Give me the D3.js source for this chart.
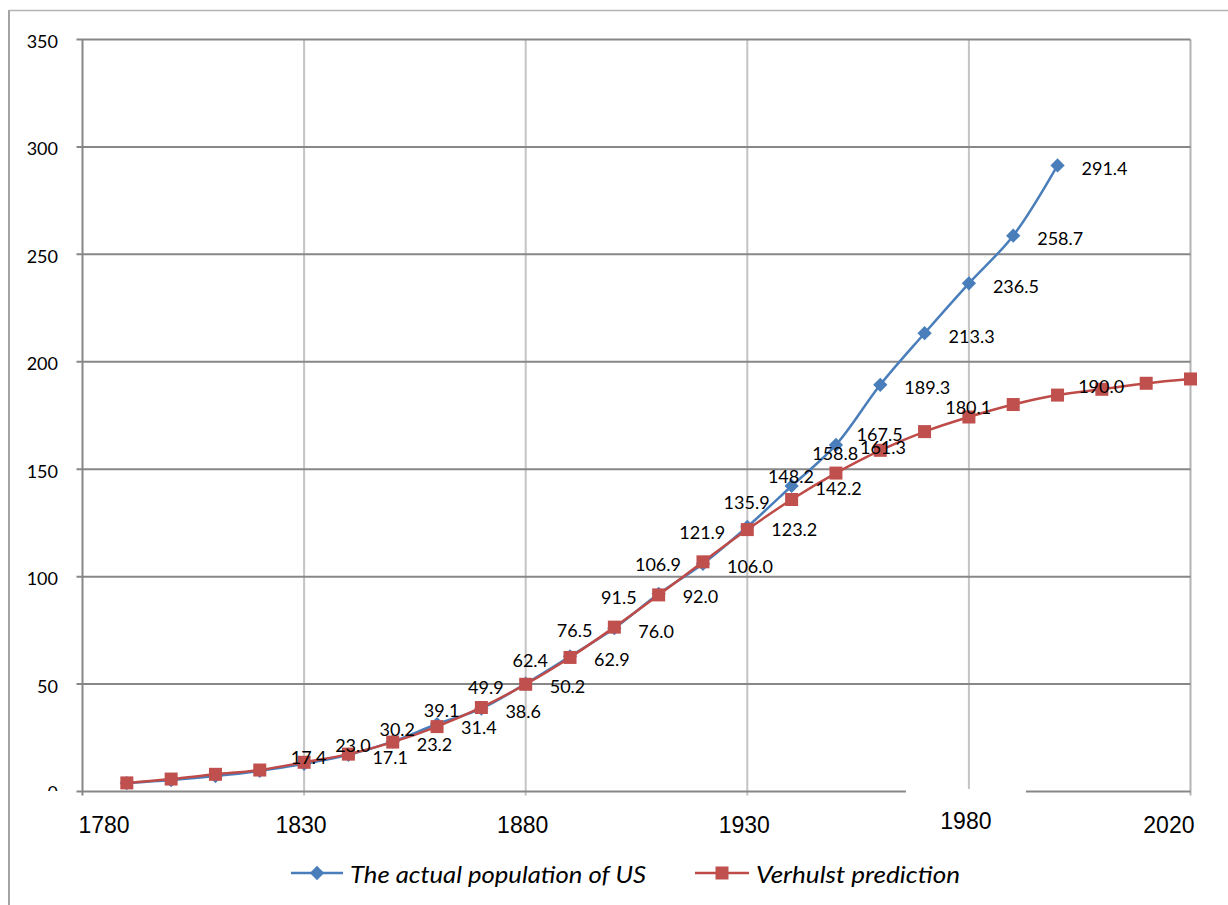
<!DOCTYPE html>
<html>
<head>
<meta charset="utf-8">
<script src="https://cdn.jsdelivr.net/npm/d3@7"></script>
<style>
  html, body { margin: 0; padding: 0; background: #ffffff; }
  svg { display: block; }
</style>
</head>
<body>
<svg id="chart" width="1228" height="905"></svg>
<script>
// Census decades (x values)
const years = [1790, 1800, 1810, 1820, 1830, 1840, 1850, 1860, 1870, 1880,
               1890, 1900, 1910, 1920, 1930, 1940, 1950, 1960, 1970, 1980,
               1990, 2000, 2010, 2020, 2030];

// US population, millions
const actualPopulation = [3.9, 5.3, 7.2, 9.6, 12.9, 17.1, 23.2, 31.4, 38.6, 50.2,
                          62.9, 76.0, 92.0, 106.0, 123.2, 142.2, 161.3, 189.3, 213.3, 236.5,
                          258.7, 291.4];

// Logistic (Verhulst) model, millions
const verhulstPrediction = [4.0, 5.8, 8.0, 10.0, 13.6, 17.4, 23.0, 30.2, 39.1, 49.9,
                            62.4, 76.5, 91.5, 106.9, 121.9, 135.9, 148.2, 158.8, 167.5, 174.3,
                            180.1, 184.5, 187.2, 190.0, 192.0];

// Decades that carry a value label
const actualLabelYears = [1840, 1850, 1860, 1870, 1880, 1890, 1900, 1910, 1920, 1930,
                          1940, 1950, 1960, 1970, 1980, 1990, 2000];
const verhulstLabelYears = [1840, 1850, 1860, 1870, 1880, 1890, 1900, 1910, 1920, 1930,
                            1940, 1950, 1960, 1970, 1990, 2020];

// Axis ticks
const xTickValues = [1780, 1830, 1880, 1930, 1980, 2030];
const xTickLabels = ["1780", "1830", "1880", "1930", "1980", "2020"];
const yTickValues = [0, 50, 100, 150, 200, 250, 300, 350];

const seriesNames = ["The actual population of US", "Verhulst prediction"];

const BLUE = "#4A7EBB";
const RED = "#BE4B48";
const AXIS = "#878787";
const GRID_V = "#c4c4c4";

const svg = d3.select("#chart");

// outer chart frame
svg.append("line").attr("x1", 9).attr("x2", 9).attr("y1", 10).attr("y2", 905)
  .attr("stroke", "#a3a3a3").attr("stroke-width", 2);
svg.append("line").attr("x1", 9).attr("x2", 1228).attr("y1", 10.5).attr("y2", 10.5)
  .attr("stroke", "#b4b4b4").attr("stroke-width", 1.5);

const x = d3.scaleLinear().domain([1780, 2030]).range([82.5, 1190.5]);
const y = d3.scaleLinear().domain([0, 350]).range([791.5, 39.5]);

const fmt = d3.format(".1f");

// vertical gridlines
svg.append("g").selectAll("line")
  .data(xTickValues.slice(1))
  .join("line")
  .attr("x1", d => x(d)).attr("x2", d => x(d))
  .attr("y1", y(350)).attr("y2", y(0) + 4)
  .attr("stroke", d => d === 2030 ? "#b3b3b3" : GRID_V)
  .attr("stroke-width", 2);

// horizontal gridlines with left tick stubs
svg.append("g").selectAll("line")
  .data(yTickValues)
  .join("line")
  .attr("x1", x(1780) - 6).attr("x2", x(2030))
  .attr("y1", d => y(d)).attr("y2", d => y(d))
  .attr("stroke", AXIS)
  .attr("stroke-width", 2);

// value axis line
svg.append("line")
  .attr("x1", x(1780)).attr("x2", x(1780))
  .attr("y1", y(350)).attr("y2", y(0) + 4)
  .attr("stroke", AXIS).attr("stroke-width", 2);

// y tick labels; the lowest one is cut at the axis line
svg.append("clipPath").attr("id", "yclip")
  .append("rect").attr("x", 0).attr("y", 0).attr("width", 80).attr("height", y(0) - 0.5);
svg.append("g").attr("clip-path", "url(#yclip)")
  .selectAll("text")
  .data(yTickValues)
  .join("text")
  .attr("x", 58)
  .attr("y", d => y(d) + (d === 0 ? 7 : 8.5))
  .attr("text-anchor", "end")
  .attr("font-family", "Lato, 'Open Sans', sans-serif")
  .attr("font-size", 18)
  .attr("fill", "#000")
  .text(d => d);

// x tick labels
const xl = svg.append("g");
xTickValues.forEach((v, i) => {
  const last = i === xTickValues.length - 1;
  const first = i === 0;
  if (v === 1980) {
    // this label sits on an opaque box that hides part of the axis line
    xl.append("rect").attr("x", x(v) - 63).attr("y", y(0) - 2.5)
      .attr("width", 120).attr("height", 48).attr("fill", "#fff");
  }
  xl.append("text")
    .attr("x", first ? x(v) - 4 : last ? x(v) + 4 : x(v) - 3)
    .attr("y", v === 1980 ? 829 : 833)
    .attr("text-anchor", first ? "start" : last ? "end" : "middle")
    .attr("font-family", "'Liberation Sans', Arial, sans-serif")
    .attr("font-size", 23)
    .attr("fill", "#000")
    .text(xTickLabels[i]);
});

// series data
const actual = actualPopulation.map((v, i) => ({ year: years[i], value: v }));
const verhulst = verhulstPrediction.map((v, i) => ({ year: years[i], value: v }));

const line = d3.line()
  .x(d => x(d.year))
  .y(d => y(d.value))
  .curve(d3.curveCatmullRom.alpha(0.5));

const diamond = d3.symbol().type(d3.symbolDiamond2).size(130);

// actual population
svg.append("path").datum(actual)
  .attr("d", line).attr("fill", "none")
  .attr("stroke", BLUE).attr("stroke-width", 2.5);
svg.append("g").selectAll("path")
  .data(actual)
  .join("path")
  .attr("d", diamond)
  .attr("transform", d => `translate(${x(d.year)},${y(d.value)})`)
  .attr("fill", BLUE);

// Verhulst prediction
svg.append("path").datum(verhulst)
  .attr("d", line).attr("fill", "none")
  .attr("stroke", RED).attr("stroke-width", 2.5);
svg.append("g").selectAll("rect")
  .data(verhulst)
  .join("rect")
  .attr("x", d => x(d.year) - 6.5)
  .attr("y", d => y(d.value) - 6.5)
  .attr("width", 13).attr("height", 13)
  .attr("fill", "#C0504D");

// value labels
const labelFont = "Lato, 'Open Sans', sans-serif";
svg.append("g").selectAll("text")
  .data(actual.filter(d => actualLabelYears.includes(d.year)))
  .join("text")
  .attr("x", d => x(d.year) + 24)
  .attr("y", d => y(d.value) + 9.5)
  .attr("font-family", labelFont).attr("font-size", 18)
  .attr("fill", "#000")
  .text(d => fmt(d.value));

svg.append("g").selectAll("text")
  .data(verhulst.filter(d => verhulstLabelYears.includes(d.year)))
  .join("text")
  .attr("x", d => x(d.year) - 22)
  .attr("y", d => y(d.value) + 9.5)
  .attr("text-anchor", "end")
  .attr("font-family", labelFont).attr("font-size", 18)
  .attr("fill", "#000")
  .text(d => fmt(d.value));

// legend
const legend = svg.append("g");
const legendItems = [
  { name: seriesNames[0], color: BLUE, x0: 291, x1: 343, textX: 350, width: 296, marker: "diamond" },
  { name: seriesNames[1], color: RED, x0: 695, x1: 749, textX: 756, width: 204, marker: "square" }
];
const legendY = 873;
legendItems.forEach(it => {
  legend.append("line")
    .attr("x1", it.x0).attr("x2", it.x1)
    .attr("y1", legendY).attr("y2", legendY)
    .attr("stroke", it.color).attr("stroke-width", 2.5);
  const cx = (it.x0 + it.x1) / 2;
  if (it.marker === "diamond") {
    legend.append("path").attr("d", diamond)
      .attr("transform", `translate(${cx},${legendY})`).attr("fill", it.color);
  } else {
    legend.append("rect").attr("x", cx - 6.5).attr("y", legendY - 6.5)
      .attr("width", 13).attr("height", 13).attr("fill", "#C0504D");
  }
  legend.append("text")
    .attr("x", it.textX).attr("y", legendY + 9.5)
    .attr("font-family", labelFont)
    .attr("font-style", "italic")
    .attr("font-size", 24)
    .attr("textLength", it.width)
    .attr("lengthAdjust", "spacingAndGlyphs")
    .attr("fill", "#000")
    .text(it.name);
});
</script>
</body>
</html>
